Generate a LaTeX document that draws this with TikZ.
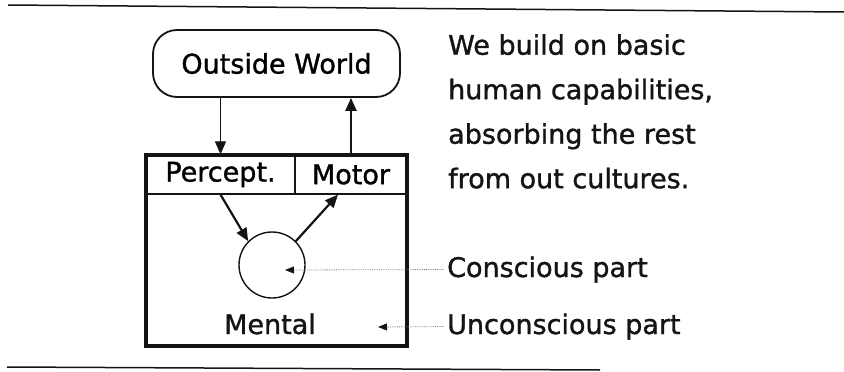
\documentclass[tikz,border=0pt]{standalone}
\usepackage{fontspec}
\setmainfont{DejaVu Sans}
\newfontfamily\diagfamily{DejaVu Sans}[FakeBold=1.2]
\usepackage{tikz}
\usetikzlibrary{arrows.meta, positioning, shapes.geometric}
\definecolor{mydark}{RGB}{20,20,20}
\definecolor{mygrey}{RGB}{125,125,125}
\newcommand{\diagfont}{\diagfamily\fontsize{27}{44.5}\selectfont}
\tikzset{
  worldbox/.style={rectangle, draw=mydark, rounded corners=24pt,
    line width=1.8pt, minimum width=247pt, minimum height=67pt,
    inner sep=0pt, font=\diagfont},
  cellbox/.style={rectangle, draw=mydark, line width=1.2pt,
    minimum height=39pt, inner sep=0pt, font=\diagfont},
  mindbox/.style={rectangle, draw=mydark, line width=3.2pt,
    minimum width=261pt, minimum height=191pt, inner sep=0pt},
  partcirc/.style={circle, draw=mydark, line width=1.4pt,
    minimum size=66pt, inner sep=0pt},
  txt/.style={font=\diagfont, inner sep=0pt, text=mydark},
  arrow/.style={-{Triangle[length=13pt,width=11pt]}, line width=1pt, color=mydark},
  thickarrow/.style={arrow, line width=2.2pt},
  leader/.style={-{Triangle[length=9pt,width=7pt,color=mydark]}, densely dotted,
    line width=0.8pt, color=mygrey, shorten <=4pt},
  rule/.style={line width=1.5pt, color=mydark}
}

\begin{document}
\begin{tikzpicture}[x=1pt, y=-1pt]
  \useasboundingbox (0,0) rectangle (844,372);
  \draw[rule] (8,5) -- (844,12);
  \draw[rule] (7,367) -- (600,370);

  \node[worldbox] (world) at (276.5,63.5) {Outside World};
  \node[cellbox, minimum width=149pt] (percept) at (220.5,174.5) {Percept.};
  \node[cellbox, minimum width=112pt] (motor) at (351,174.5) {Motor};
  \node[mindbox] (mental) at (276.5,250.5) {};
  \node[partcirc] (conscious) at (272,265) {};
  \node[txt, anchor=base] (mentaltext) at (270,334) {Mental};

  \draw[arrow] (world.south -| percept) -- (percept.north);
  \draw[thickarrow] (motor.north) -- (motor.north |- world.south);
  \draw[thickarrow] (percept.south) -- (conscious.135);
  \draw[thickarrow] (conscious.45) -- ([xshift=-13pt]motor.south);

  \node[txt, anchor=north west, align=left] (motto) at (448,34)
    {We build on basic\\human capabilities,\\absorbing the rest\\from out cultures.};
  \node[txt, anchor=base west] (consciouslabel) at (447,277) {Conscious part};
  \node[txt, anchor=base west] (unconsciouslabel) at (447,334) {Unconscious part};
  \coordinate (ctip) at (285,270);
  \coordinate (utip) at (378,327);
  \draw[leader] (consciouslabel.west) -- (ctip);
  \draw[leader] (unconsciouslabel.west) -- (utip);
\end{tikzpicture}
\end{document}
